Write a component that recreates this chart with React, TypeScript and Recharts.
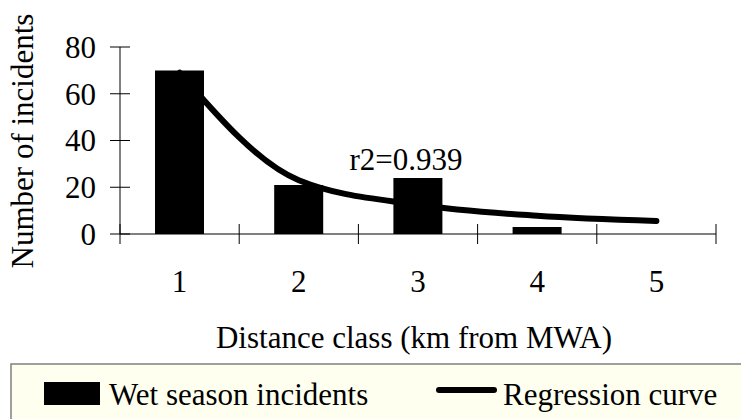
import { ComposedChart, Bar, Line, XAxis, YAxis, ReferenceDot } from 'recharts';

const distanceClasses = [1, 2, 3, 4, 5];
const wetSeasonIncidents = [70, 21, 24, 3, 0];
const regressionCurve = [69, 23, 12.5, 7.8, 5.6];
const yTicks = [0, 20, 40, 60, 80];
// integer ticks carry the labels, half ticks are the class boundaries
const xTicks = [0.5, 1, 1.5, 2, 2.5, 3, 3.5, 4, 4.5, 5, 5.5];

const FONT = 'Liberation Serif';
const FS = 31;

const data = distanceClasses.map((d, i) => ({
  distance: d,
  incidents: wetSeasonIncidents[i],
  curve: regressionCurve[i],
}));

const XTick = (props: any) => {
  const { x, y, payload } = props;
  const v = payload.value;
  if (Number.isInteger(v)) {
    return (
      <text x={x} y={y + 58} textAnchor="middle" style={{ fontFamily: FONT }} fontSize={FS} fill="#000">
        {v}
      </text>
    );
  }
  return <line x1={x} x2={x} y1={y - 10} y2={y + 10} stroke="#000" strokeWidth={1} />;
};

const YTick = (props: any) => {
  const { x, y, payload } = props;
  return (
    <g>
      <line x1={x - 10} x2={x + 10} y1={y} y2={y} stroke="#000" strokeWidth={1} />
      <text x={x - 24} y={y} dy="0.35em" textAnchor="end" style={{ fontFamily: FONT }} fontSize={FS} fill="#000">
        {payload.value}
      </text>
    </g>
  );
};

const App = () => {
  return (
    <div style={{ position: 'absolute', left: 0, top: 0, width: 741, height: 419, background: '#fff', overflow: 'hidden' }}>
      <ComposedChart width={741} height={419} data={data} margin={{ top: 47, right: 25, bottom: 125, left: 0 }}>
        <XAxis
          dataKey="distance"
          type="number"
          domain={[0.5, 5.5]}
          ticks={xTicks}
          interval={0}
          tickLine={false}
          tickSize={0}
          tickMargin={0}
          tick={<XTick />}
          axisLine={{ stroke: '#000', strokeWidth: 1 }}
          height={60}
          label={({ viewBox }: any) => (
            <text x={414} y={viewBox.y + 114} textAnchor="middle" style={{ fontFamily: FONT }} fontSize={FS} fill="#000">
              Distance class (km from MWA)
            </text>
          )}
        />
        <YAxis
          domain={[0, 80]}
          ticks={yTicks}
          width={120}
          tickLine={false}
          tickSize={0}
          tickMargin={0}
          tick={<YTick />}
          axisLine={{ stroke: '#000', strokeWidth: 1 }}
          label={() => (
            <text
              x={33}
              y={141}
              transform="rotate(-90, 33, 141)"
              textAnchor="middle"
              style={{ fontFamily: FONT }}
              fontSize={FS}
              fill="#000"
            >
              Number of incidents
            </text>
          )}
        />
        <Bar dataKey="incidents" fill="#000" barSize={49} isAnimationActive={false} />
        <Line
          dataKey="curve"
          type="monotone"
          stroke="#000"
          strokeWidth={6}
          strokeLinecap="round"
          dot={false}
          activeDot={false}
          isAnimationActive={false}
        />
        <ReferenceDot
          x={2.9}
          y={32}
          r={0}
          fill="none"
          stroke="none"
          label={{ value: 'r2=0.939', position: 'center', style: { fontFamily: FONT }, fontSize: FS, fill: '#000' }}
        />
      </ComposedChart>
      <svg width={741} height={419} style={{ position: 'absolute', left: 0, top: 0 }}>
        <rect x={11} y={364} width={760} height={80} fill="#FFFFF0" stroke="#808080" strokeWidth={1.5} />
        <rect x={44} y={382} width={56} height={23} fill="#000" />
        <text x={109} y={405} style={{ fontFamily: FONT }} fontSize={FS} fill="#000">
          Wet season incidents
        </text>
        <line x1={439} x2={494} y1={390} y2={390} stroke="#000" strokeWidth={6} strokeLinecap="round" />
        <text x={503} y={405} style={{ fontFamily: FONT }} fontSize={FS} fill="#000">
          Regression curve
        </text>
      </svg>
    </div>
  );
};

export default App;
